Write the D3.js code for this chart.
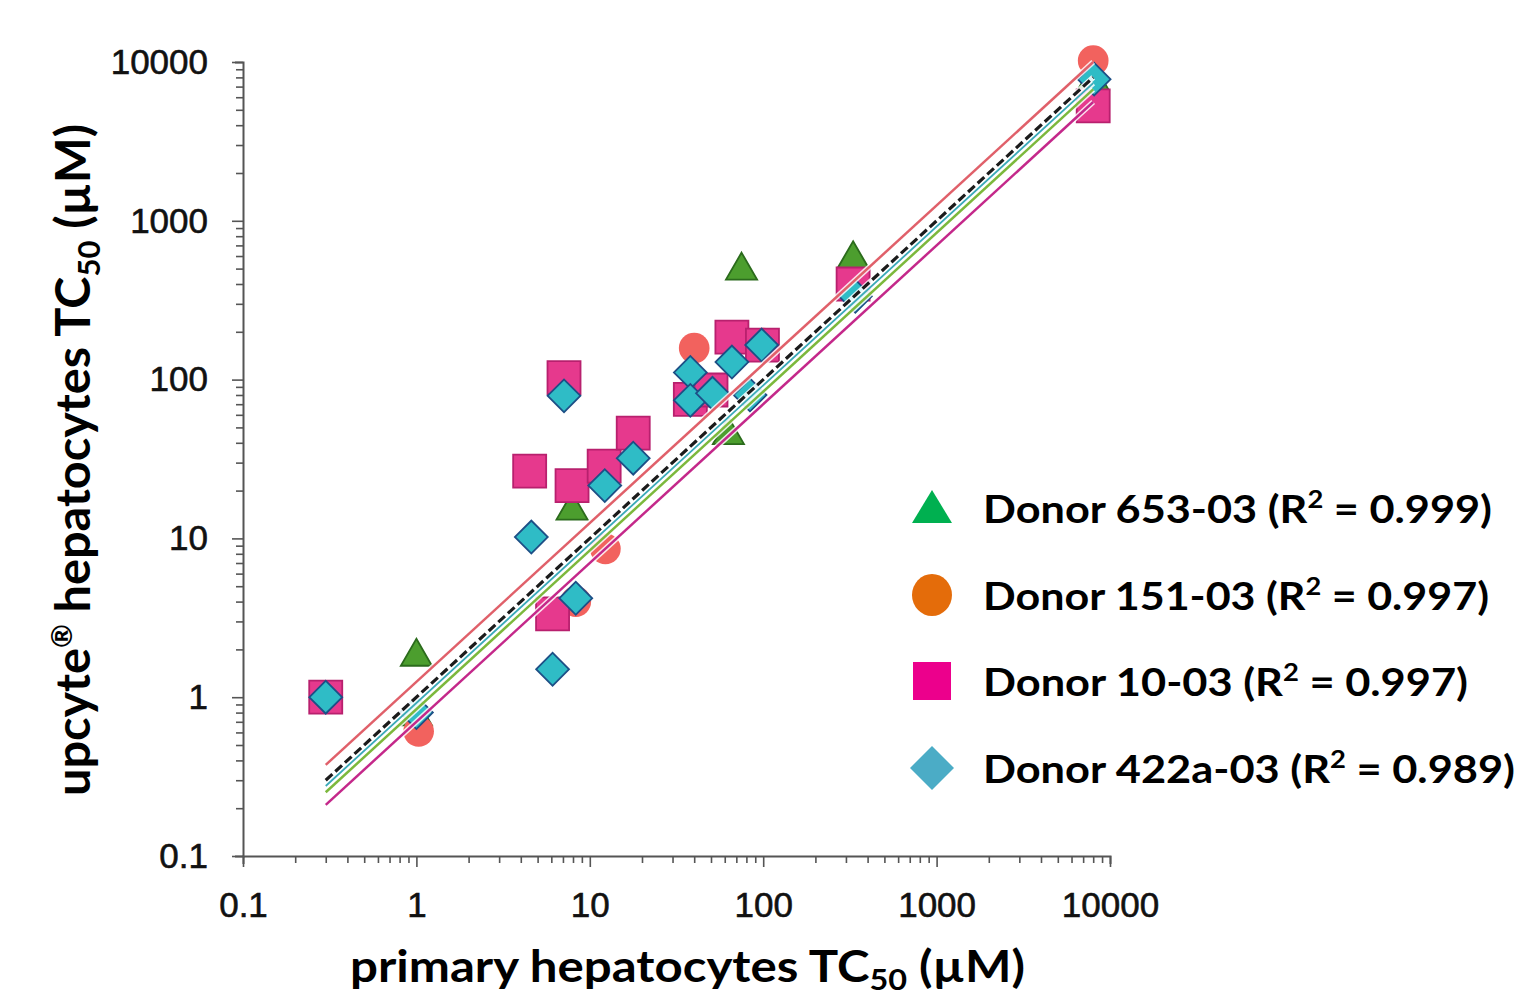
<!DOCTYPE html>
<html><head><meta charset="utf-8">
<script src="https://cdn.jsdelivr.net/npm/d3@7"></script>
<style>body{margin:0;background:#fff} svg{display:block}</style>
</head><body>
<svg id="chart" width="1515" height="997"></svg>
<script>
// ---- data ----
const donorNames = ["Donor 653-03", "Donor 151-03", "Donor 10-03", "Donor 422a-03"];
const donorR2 = ["0.999", "0.997", "0.997", "0.989"];
const donorShapes = ["triangle", "circle", "square", "diamond"];

const triX = [1, 1, 7.9, 63, 75, 330, 8000];
const triY = [1.85, 0.78, 15.4, 46, 500, 590, 7800];

const circX = [1.03, 8.3, 12.3, 40, 100, 8000];
const circY = [0.61, 4.0, 8.6, 158, 170, 10200];

const sqX = [0.3, 4.5, 6.1, 7.1, 7.9, 12.1, 17.8, 38, 50, 66, 99, 330, 8000];
const sqY = [1, 26.5, 3.35, 103, 21.5, 28.5, 46, 75, 86, 185, 165, 400, 5300];

const diaX = [0.3, 1, 4.6, 6.1, 7.1, 8.3, 12.2, 17.8, 38, 38, 51, 66, 84, 98, 340, 8100];
const diaY = [1, 0.8, 10.2, 1.5, 79, 4.2, 21.5, 32, 111, 74, 82, 129, 80, 165, 335, 7800];

// regression lines y = k * x, drawn over the x range
const fitK = [1.25, 1.0, 0.92, 0.84, 0.70];
const fitRange = [0.3, 8000];

const xMajor = [0.1, 1, 10, 100, 1000, 10000];
const yMajor = [0.1, 1, 10, 100, 1000, 10000];

// ---- styles ----
const legendColors = ["#00b050", "#e46c0a", "#ec008c", "#4bacc6"];
const markerFill = ["#4c9e2e", "#f2625e", "#e6398d", "#2fbcc6"];
const markerStroke = ["#2b6b1c", "#ee5652", "#b8206e", "#1d4f86"];
const fitColors = ["#e0606a", "#1b1b1b", "#3aa9b8", "#7cb83c", "#c4288a"];
const fitDash = [null, "9,4", null, null, null];
const fitWidth = [2.5, 3.2, 1.8, 2.5, 2.5];

const svg = d3.select("#chart");
const x = d3.scaleLog().domain([0.1, 10000]).range([243, 1110]);
const y = d3.scaleLog().domain([0.1, 10000]).range([856, 62]);

const isMajor = d => xMajor.some(m => Math.abs(Math.log10(d) - Math.log10(m)) < 1e-9);
const fmt = d3.format("~g");

// axes
const xAxis = svg.append("g").attr("transform", "translate(0,856)")
  .call(d3.axisBottom(x).ticks(10).tickSizeOuter(0).tickSize(8).tickPadding(28)
    .tickFormat(d => isMajor(d) ? fmt(d) : ""));
xAxis.selectAll(".tick line").attr("y2", d => isMajor(d) ? 11 : 7);
const yAxis = svg.append("g").attr("transform", "translate(243,0)")
  .call(d3.axisLeft(y).ticks(10).tickSizeOuter(0).tickSize(8).tickPadding(27)
    .tickFormat(d => isMajor(d) ? fmt(d) : ""));
yAxis.selectAll(".tick line").attr("x2", d => isMajor(d) ? -11 : -7);
[xAxis, yAxis].forEach(a => {
  a.select(".domain").attr("stroke", "#555").attr("stroke-width", 2);
  a.selectAll(".tick line").attr("stroke", "#555").attr("stroke-width", 1.6);
  a.selectAll(".tick text").attr("font-family", "'Liberation Sans', Arial, sans-serif")
    .attr("font-size", 35).attr("fill", "#111")
    .attr("stroke", "#111").attr("stroke-width", 0.6);
});

// markers
const series = [
  {xs: triX, ys: triY, i: 0},
  {xs: circX, ys: circY, i: 1},
  {xs: sqX, ys: sqY, i: 2},
  {xs: diaX, ys: diaY, i: 3}
];
function symPath(shape, scale) {
  if (shape === "triangle") return d3.symbol(d3.symbolTriangle, 420 * scale * scale)();
  if (shape === "circle") return d3.symbol(d3.symbolCircle, 740 * scale * scale)();
  if (shape === "square") return d3.symbol(d3.symbolSquare, 1090 * scale * scale)();
  return d3.symbol(d3.symbolSquare, 540 * scale * scale)();
}
series.forEach(s => {
  const shape = donorShapes[s.i];
  const pts = s.xs.map((v, j) => [v, s.ys[j]]);
  svg.append("g").selectAll("path").data(pts).join("path")
    .attr("d", symPath(shape, 1))
    .attr("transform", d => `translate(${x(d[0])},${y(d[1])})` + (shape === "diamond" ? " rotate(45)" : "") + (shape === "triangle" ? " translate(0,2)" : ""))
    .attr("fill", markerFill[s.i])
    .attr("stroke", markerStroke[s.i])
    .attr("stroke-width", shape === "circle" ? 0 : 1.8);
});

// fit lines
const lineGen = d3.line().x(d => x(d[0])).y(d => y(d[1]));
fitK.forEach((k, i) => {
  const pts = fitRange.map(v => [v, k * v]);
  svg.append("path").attr("d", lineGen(pts)).attr("fill", "none")
    .attr("stroke", "#fff").attr("stroke-width", 5.5).attr("opacity", 0.85);
});
fitK.forEach((k, i) => {
  const pts = fitRange.map(v => [v, k * v]);
  svg.append("path").attr("d", lineGen(pts)).attr("fill", "none")
    .attr("stroke", fitColors[i]).attr("stroke-width", fitWidth[i])
    .attr("stroke-dasharray", fitDash[i]);
});

// axis titles
const titleFont = "Lato, 'Open Sans', sans-serif";
const xt = svg.append("text").attr("x", 350).attr("y", 982)
  .attr("font-family", titleFont).attr("font-weight", 700).attr("font-size", 44).attr("fill", "#000")
  .attr("textLength", 675).attr("lengthAdjust", "spacingAndGlyphs");
xt.append("tspan").text("primary hepatocytes TC");
xt.append("tspan").attr("font-size", 29).attr("dy", 8).text("50");
xt.append("tspan").attr("dy", -8).text(" (µM)");

const yt = svg.append("text").attr("transform", "translate(90,796) rotate(-90)")
  .attr("font-family", titleFont).attr("font-weight", 700).attr("font-size", 47).attr("fill", "#000")
  .attr("textLength", 672).attr("lengthAdjust", "spacingAndGlyphs");
yt.append("tspan").text("upcyte");
yt.append("tspan").attr("font-size", 28).attr("dy", -18).text("®");
yt.append("tspan").attr("dy", 18).text(" hepatocytes TC");
yt.append("tspan").attr("font-size", 30).attr("dy", 10).text("50");
yt.append("tspan").attr("dy", -10).text(" (µM)");

// legend
const legY = [508, 595, 681, 768];
const legLen = [509, 506, 485, 532];
donorNames.forEach((name, i) => {
  const g = svg.append("g").attr("transform", `translate(932,${legY[i]})`);
  const shape = donorShapes[i];
  if (shape === "triangle") g.append("path").attr("d", "M0,-18 L20,15 L-20,15 Z").attr("fill", legendColors[i]);
  else if (shape === "circle") g.append("ellipse").attr("rx", 20).attr("ry", 21).attr("fill", legendColors[i]);
  else if (shape === "square") g.append("rect").attr("x", -19).attr("y", -19).attr("width", 38).attr("height", 38).attr("fill", legendColors[i]);
  else g.append("path").attr("d", "M0,-22 L22,0 L0,22 L-22,0 Z").attr("fill", legendColors[i]);
  const t = g.append("text").attr("x", 51).attr("y", 15)
    .attr("font-family", titleFont).attr("font-weight", 700).attr("font-size", 38).attr("fill", "#000")
    .attr("textLength", legLen[i]).attr("lengthAdjust", "spacingAndGlyphs");
  t.append("tspan").text(name + " (R");
  t.append("tspan").attr("font-size", 24).attr("dy", -15).text("2");
  t.append("tspan").attr("dy", 15).text(" = " + donorR2[i] + ")");
});
</script>
</body></html>
